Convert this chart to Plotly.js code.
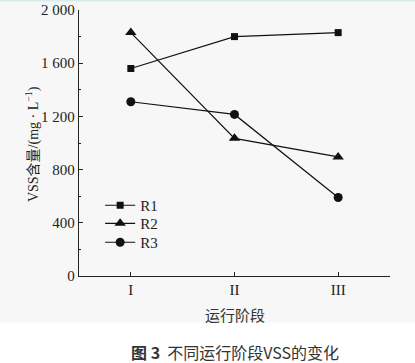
<!DOCTYPE html>
<html><head><meta charset="utf-8">
<script src="https://cdn.plot.ly/plotly-3.0.1.min.js"></script>
<style>html,body{margin:0;padding:0;background:#fff;}#c{width:415px;height:363px;}</style>
</head><body><div id="c"></div>
<script>
const stages = ['I', 'II', 'III'];
const seriesNames = ['R1', 'R2', 'R3'];
const r1 = [1560, 1800, 1830];
const r2 = [1830, 1035, 895];
const r3 = [1310, 1215, 590];
const yTickVals = [0, 400, 800, 1200, 1600, 2000];
const yTickText = ['0', '400', '800', '1 200', '1 600', '2 000'];

const serif = 'Liberation Serif, Times New Roman, Noto Sans CJK SC, serif';
const symbols = ['square', 'triangle-up', 'circle'];
const sizes = [7, 10, 9];
const vals = [r1, r2, r3];
const legendIds = ['legend', 'legend2', 'legend3'];
const legendY = [0.265, 0.197, 0.126];

const data = vals.map((v, i) => ({
  x: [0, 1, 2], y: v, name: seriesNames[i], type: 'scatter', mode: 'lines+markers',
  legend: legendIds[i],
  line: {color: '#111', width: 1.2},
  marker: {symbol: symbols[i], size: sizes[i], color: '#111'}
}));

const legendStyle = (y) => ({x: 0.068, y: y, xanchor: 'left', yanchor: 'middle', bgcolor: 'rgba(0,0,0,0)',
  font: {family: serif, size: 15, color: '#222'}, itemwidth: 30});

const layout = {
  width: 415, height: 363,
  margin: {l: 79, r: 25, t: 10, b: 87},
  paper_bgcolor: '#ffffff', plot_bgcolor: '#f7f7f7',
  showlegend: true,
  legend: legendStyle(legendY[0]),
  legend2: legendStyle(legendY[1]),
  legend3: legendStyle(legendY[2]),
  xaxis: {range: [-0.5, 2.5], tickvals: [0, 1, 2], ticktext: stages, showgrid: false, zeroline: false,
    showline: true, linecolor: '#222', linewidth: 1.2, ticks: 'inside', ticklen: 4, tickcolor: '#222',
    tickfont: {family: serif, size: 15, color: '#222'}, fixedrange: true},
  yaxis: {range: [0, 2000], tickvals: yTickVals, ticktext: yTickText, showgrid: false, zeroline: false,
    showline: true, linecolor: '#222', linewidth: 1.2, ticks: 'inside', ticklen: 4, tickcolor: '#222',
    minor: {dtick: 200, ticks: 'inside', ticklen: 2, tickcolor: '#222'},
    tickfont: {family: serif, size: 15, color: '#222'}, fixedrange: true},
  shapes: [
    {type: 'rect', xref: 'paper', yref: 'paper', x0: -0.26, x1: 1.09, y0: -0.1747, y1: 1.04,
     fillcolor: '#f7f7f7', line: {width: 0}, layer: 'below'},
    {type: 'line', xref: 'paper', yref: 'paper', x0: -0.26, x1: 1.09, y0: 1.0357, y1: 1.0357,
     line: {color: '#d8ecec', width: 2}}
  ],
  annotations: [
    {text: 'VSS含量/(mg · L<sup>−1</sup>)', xref: 'paper', yref: 'paper', x: -0.147, y: 0.497,
     textangle: -90, showarrow: false, xanchor: 'center', yanchor: 'middle',
     font: {family: serif, size: 14, color: '#222'}},
    {text: '运行阶段', xref: 'paper', yref: 'paper', x: 0.5, y: -0.145, showarrow: false,
     xanchor: 'center', yanchor: 'middle', font: {family: 'Noto Sans CJK SC, sans-serif', size: 15, color: '#333'}},
    {text: '<b>图 3</b>  不同运行阶段VSS的变化', xref: 'paper', yref: 'paper', x: 0.5, y: -0.284,
     showarrow: false, xanchor: 'center', yanchor: 'middle',
     font: {family: 'Noto Sans CJK SC, sans-serif', size: 16, color: '#333'}}
  ]
};
Plotly.newPlot('c', data, layout, {staticPlot: true, displayModeBar: false});
</script></body></html>
